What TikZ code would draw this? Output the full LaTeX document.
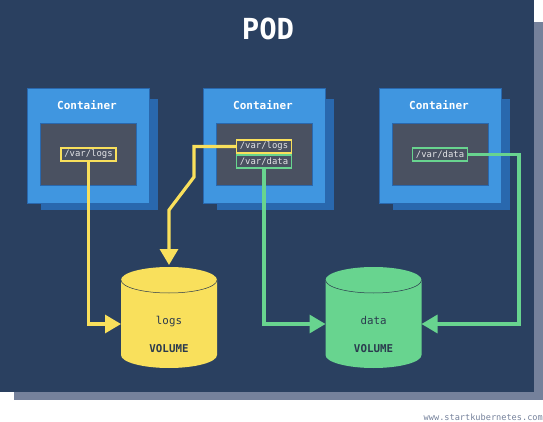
\documentclass[tikz,border=0pt]{standalone}
\usepackage{fontspec}
\setmonofont{DejaVu Sans Mono}
\usetikzlibrary{positioning}
\usetikzlibrary{arrows.meta}
\definecolor{podcol}{HTML}{2A4060}
\definecolor{shadowcol}{HTML}{75819B}
\definecolor{frontcol}{HTML}{4096E0}
\definecolor{backcol}{HTML}{2968AE}
\definecolor{innercol}{HTML}{4A5161}
\definecolor{logscol}{HTML}{F9E05C}
\definecolor{datacol}{HTML}{68D48F}
\definecolor{inkcol}{HTML}{2B3A4E}
\tikzset{
    boxfront/.style={draw=backcol, line width=0.6pt, fill=frontcol, minimum width=122pt, minimum height=115pt, inner sep=0pt, outer sep=0pt, anchor=north west},
    boxback/.style={fill=backcol, minimum width=117pt, minimum height=111pt, inner sep=0pt, outer sep=0pt, anchor=north west},
    boxinner/.style={draw=backcol, line width=0.6pt, fill=innercol, minimum width=96pt, minimum height=62pt, inner sep=0pt, outer sep=0pt, anchor=north west},
    boxtitle/.style={text=white, font=\ttfamily\bfseries\fontsize{11}{13}\selectfont},
    pathtag/.style={line width=1.4pt, fill=innercol, text=white!85!innercol, minimum width=55pt, minimum height=13pt, inner sep=0pt, outer sep=0pt, font=\ttfamily\fontsize{8.9}{10}\selectfont},
    volume/.style={minimum width=96pt, minimum height=101pt, inner sep=0pt, outer sep=0pt},
    volname/.style={text=inkcol, anchor=base, font=\ttfamily\fontsize{10.8}{12}\selectfont},
    voltype/.style={text=inkcol, font=\ttfamily\bfseries\fontsize{10.8}{12}\selectfont},
    mount/.style={line width=3.2pt, -{Triangle[length=16pt,width=18pt]}}
}

\begin{document}
\begin{tikzpicture}[x=1pt, y=-1pt]
        \useasboundingbox (0,0) rectangle (543,422);

        % 1. Pod with its shadow
        \fill[shadowcol] (14,22) rectangle (543,400);
        \fill[podcol] (0,0) rectangle (534,392);
        \node[text=white, font=\ttfamily\bfseries\fontsize{29}{32}\selectfont] (title) at (268,29) {POD};

        % 2. The three containers
        \foreach \cname/\xpos in {contA/27, contB/203, contC/379} {
            \node[boxback] (\cname back) at (\xpos+14,99) {};
            \node[boxfront] (\cname) at (\xpos,88) {};
            \node[boxtitle] (\cname title) at (\xpos+60,105) {Container};
            \node[boxinner] (\cname inner) at (\xpos+13,123) {};
        }

        % 3. Volumes
        \foreach \vname/\vcol/\xpos/\vtext in {logsvol/logscol/169/logs, datavol/datacol/373.5/data} {
            \fill[\vcol] (\xpos-48,280) arc (180:360:48 and 13) -- (\xpos+48,355) arc (0:180:48 and 13) -- cycle;
            \draw[inkcol, line width=0.5pt] (\xpos-48,280) arc (180:0:48 and 13);
            \node[volume] (\vname) at (\xpos,317.5) {};
            \node[volname] (\vname name) at (\xpos,324) {\vtext};
            \node[voltype] (\vname type) at (\xpos,349) {VOLUME};
        }

        % 4. Mount paths
        \node[pathtag, draw=logscol] (logsA) at (88.5,154.5) {/var/logs};
        \node[pathtag, draw=logscol] (logsB) at (264,146.5) {/var/logs};
        \node[pathtag, draw=datacol] (dataB) at (264,161.5) {/var/data};
        \node[pathtag, draw=datacol] (dataC) at (440,154.5) {/var/data};

        % 5. Connectors
        \coordinate (bendA) at (194,177);
        \coordinate (bendB) at (169,210);
        \coordinate (bendC) at (519,250);
        \draw[mount, logscol] (logsA.south) |- ([yshift=-6.5pt]logsvol.west);
        \draw[mount, logscol] (logsB.west) -| (bendA) -- (bendB) -- ([yshift=2pt]logsvol.north);
        \draw[mount, datacol] (dataB.south) |- ([yshift=-6.5pt]datavol.west);
        \draw[mount, datacol] (dataC.east) -| (bendC) |- ([yshift=-6.5pt]datavol.east);

        % 6. Footer
        \node[text=shadowcol, anchor=east, inner sep=0pt, font=\ttfamily\fontsize{8.6}{10}\selectfont] (site) at (543,417.5) {www.startkubernetes.com};
    \end{tikzpicture}
\end{document}
